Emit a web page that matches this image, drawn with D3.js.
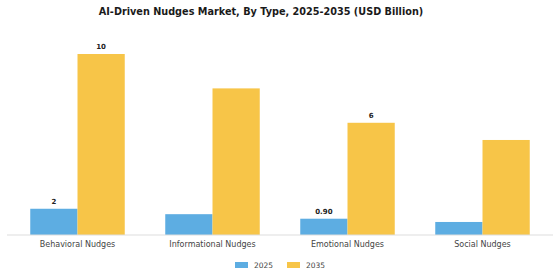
<!DOCTYPE html>
<html>
<head>
<meta charset="utf-8">
<script src="https://cdn.jsdelivr.net/npm/d3@7"></script>
<style>
  body { margin: 0; background: #fff; }
  text { font-family: "DejaVu Sans", sans-serif; }
</style>
</head>
<body>
<div id="chart"></div>
<script>
var categories = ["Behavioral Nudges", "Informational Nudges", "Emotional Nudges", "Social Nudges"];
var seriesNames = ["2025", "2035"];
var values2025 = [1.45, 1.15, 0.9, 0.72];
var values2035 = [10, 8.1, 6.2, 5.25];
// only some bars carry a label in the original
var labels2025 = ["2", "", "0.90", ""];
var labels2035 = ["10", "", "6", ""];

var width = 560, height = 280;
var colors = ["#5dade2", "#f7c548"];
var baseline = 235;

var svg = d3.select("#chart").append("svg")
    .attr("width", width)
    .attr("height", height);

svg.append("text")
    .attr("x", 261)
    .attr("y", 15)
    .attr("text-anchor", "middle")
    .style("font-size", "9.7px")
    .style("font-weight", "bold")
    .style("fill", "#1a1a1a")
    .text("AI-Driven Nudges Market, By Type, 2025-2035 (USD Billion)");

var x = d3.scaleBand()
    .domain(categories)
    .range([10, 550])
    .paddingInner(0.3)
    .paddingOuter(0.15);

var sub = d3.scaleBand()
    .domain(seriesNames)
    .range([0, x.bandwidth()]);

var y = d3.scaleLinear()
    .domain([0, 10])
    .range([baseline, 54]);

var data = [];
categories.forEach(function(c, i) {
    data.push({cat: c, s: "2025", v: values2025[i], label: labels2025[i]});
    data.push({cat: c, s: "2035", v: values2035[i], label: labels2035[i]});
});

svg.selectAll(".bar")
    .data(data)
    .enter().append("rect")
        .attr("class", "bar")
        .attr("x", function(d) { return x(d.cat) + sub(d.s); })
        .attr("y", function(d) { return y(d.v); })
        .attr("width", sub.bandwidth())
        .attr("height", function(d) { return baseline - y(d.v); })
        .attr("fill", function(d) { return d.s == "2025" ? colors[0] : colors[1]; });

svg.selectAll(".value")
    .data(data.filter(function(d) { return d.label; }))
    .enter().append("text")
        .attr("class", "value")
        .attr("x", function(d) { return x(d.cat) + sub(d.s) + sub.bandwidth() / 2; })
        .attr("y", function(d) { return y(d.v) - 5; })
        .attr("text-anchor", "middle")
        .style("font-size", "7px")
        .style("font-weight", "bold")
        .style("fill", "#222")
        .text(function(d) { return d.label; });

var axis = svg.append("g")
    .attr("transform", "translate(0," + baseline + ")")
    .call(d3.axisBottom(x).tickSize(0).tickPadding(6));
axis.select(".domain").attr("stroke", "#ddd").attr("d", "M7,0H553");
axis.selectAll("text")
    .style("font-size", "8px")
    .style("fill", "#444")
    .style("font-family", "DejaVu Sans, sans-serif");

var legend = svg.selectAll(".legend")
    .data(seriesNames)
    .enter().append("g")
        .attr("class", "legend")
        .attr("transform", function(d, i) { return "translate(" + (235 + i * 52) + ",265)"; });
legend.append("rect")
    .attr("x", 0).attr("y", -3)
    .attr("width", 13).attr("height", 6)
    .attr("fill", function(d, i) { return colors[i]; });
legend.append("text")
    .attr("x", 19).attr("y", 3)
    .style("font-size", "7.5px")
    .style("fill", "#444")
    .text(function(d) { return d; });
</script>
</body>
</html>
